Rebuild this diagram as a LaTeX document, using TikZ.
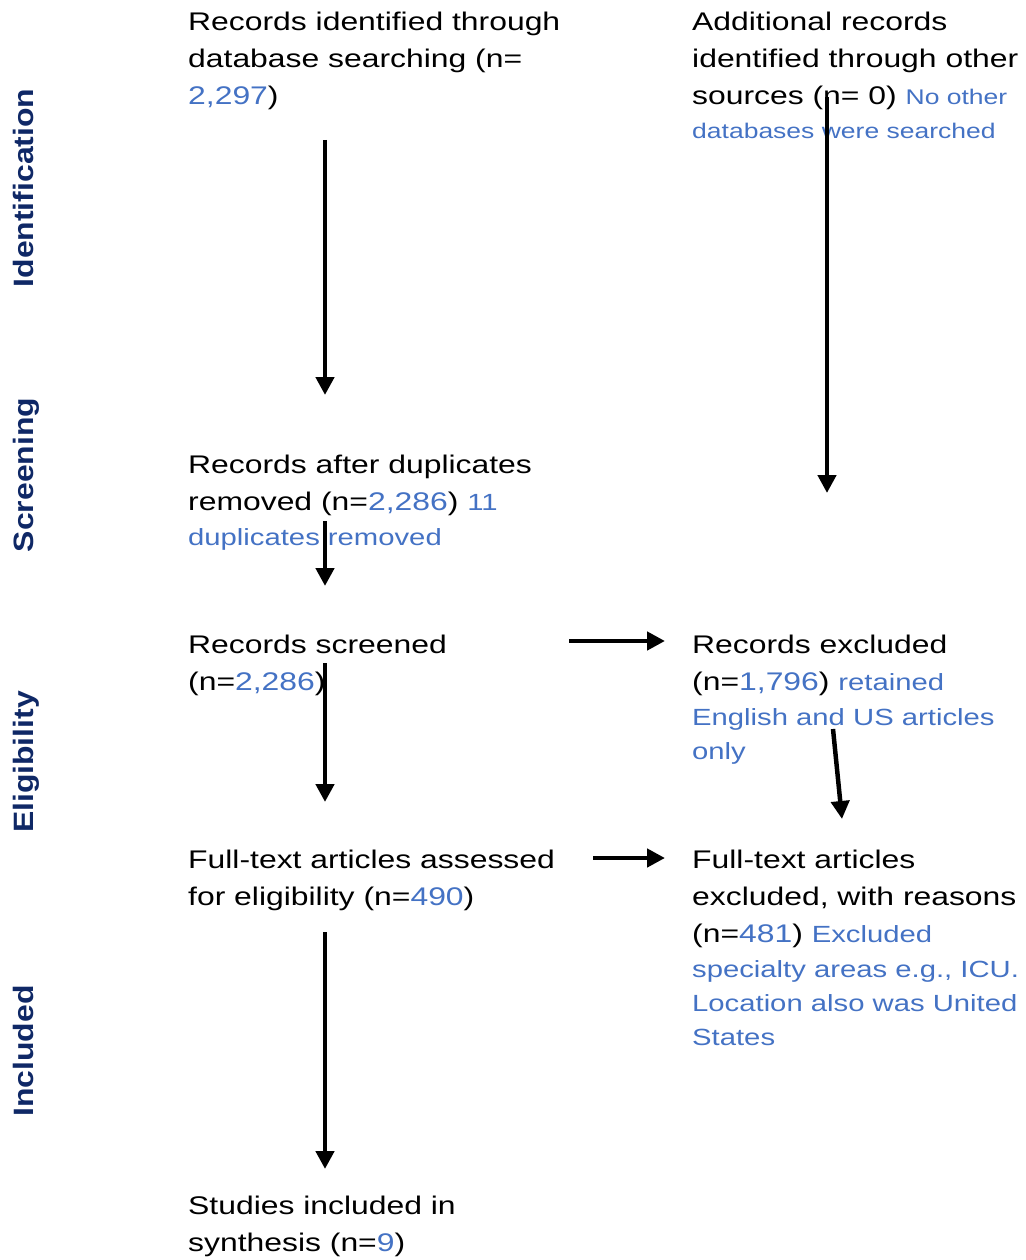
\documentclass[tikz,border=0pt]{standalone}
\usepackage{fontspec}
\setmainfont[FakeStretch=1.25]{Liberation Sans}
\newfontfamily\lblfont[FakeStretch=1.14]{Liberation Sans}
\usetikzlibrary{arrows.meta}
\definecolor{txtblue}{HTML}{4472C4}
\definecolor{navyblue}{HTML}{0F2866}
\newcommand{\bnum}[1]{\textcolor{txtblue}{#1}}
\newcommand{\bnote}[1]{{\color{txtblue}\fontsize{23.4}{34}\selectfont #1}}
\newcommand{\bsmall}[1]{{\color{txtblue}\fontsize{21.2}{31}\selectfont #1}}
\tikzset{
  txt/.style={anchor=north west, inner sep=0pt, align=left, font=\fontsize{25.5}{37}\selectfont},
  phase/.style={rotate=90, anchor=base, inner sep=0pt, text=navyblue, font=\lblfont\bfseries\fontsize{28}{30}\selectfont},
  arr/.style={line width=4.5pt, -{Triangle[length=18pt,width=18pt]}}
}
\begin{document}
\begin{tikzpicture}[x=1pt,y=-1pt]
\useasboundingbox (0,0) rectangle (1025,1260);
% phase labels
\node[phase] (lid) at (33,188) {Identification};
\node[phase] (lsc) at (33,475) {Screening};
\node[phase] (lel) at (33,762) {Eligibility};
\node[phase] (lin) at (33,1051) {Included};
% text blocks
\node[txt] (a) at (188,11.5) {Records identified through\\ database searching (n=\\ \bnum{2,297})};
\node[txt] (b) at (692,11.5) {Additional records\\ identified through other\\ sources (n= 0) \bsmall{No other}\\[-3pt] \bsmall{databases were searched}};
\node[txt] (c) at (188,454.5) {Records after duplicates\\ removed (n=\bnum{2,286}) \bnote{11}\\[-2pt] \bnote{duplicates removed}};
\node[txt] (d) at (188,634.5) {Records screened\\ (n=\bnum{2,286})};
\node[txt] (e) at (692,634.5) {Records excluded\\ (n=\bnum{1,796}) \bnote{retained}\\[-2pt] \bnote{English and US articles}\\[-3pt] \bnote{only}};
\node[txt] (f) at (188,849.5) {Full-text articles assessed\\ for eligibility (n=\bnum{490})};
\node[txt] (g) at (692,849.5) {Full-text articles\\ excluded, with reasons\\ (n=\bnum{481}) \bnote{Excluded}\\[-2pt] \bnote{specialty areas e.g., ICU.}\\[-3pt] \bnote{Location also was United}\\[-3pt] \bnote{States}};
\node[txt] (h) at (188,1195.5) {Studies included in\\ synthesis (n=\bnum{9})};
% connector end points
\coordinate (a1) at (325,140);  \coordinate (a2) at (325,395);
\coordinate (b1) at (827,97);   \coordinate (b2) at (827,493);
\coordinate (c1) at (325,521);  \coordinate (c2) at (325,586);
\coordinate (d1) at (569,641);  \coordinate (d2) at (665,641);
\coordinate (e1) at (325,663);  \coordinate (e2) at (325,802);
\coordinate (f1) at (833,729);  \coordinate (f2) at (842,819);
\coordinate (g1) at (593,858);  \coordinate (g2) at (665,858);
\coordinate (h1) at (325,932);  \coordinate (h2) at (325,1169);
\draw[arr] (a1) -- (a2);
\draw[arr] (b1) -- (b2);
\draw[arr] (c1) -- (c2);
\draw[arr] (d1) -- (d2);
\draw[arr] (e1) -- (e2);
\draw[arr] (f1) -- (f2);
\draw[arr] (g1) -- (g2);
\draw[arr] (h1) -- (h2);
\end{tikzpicture}
\end{document}
